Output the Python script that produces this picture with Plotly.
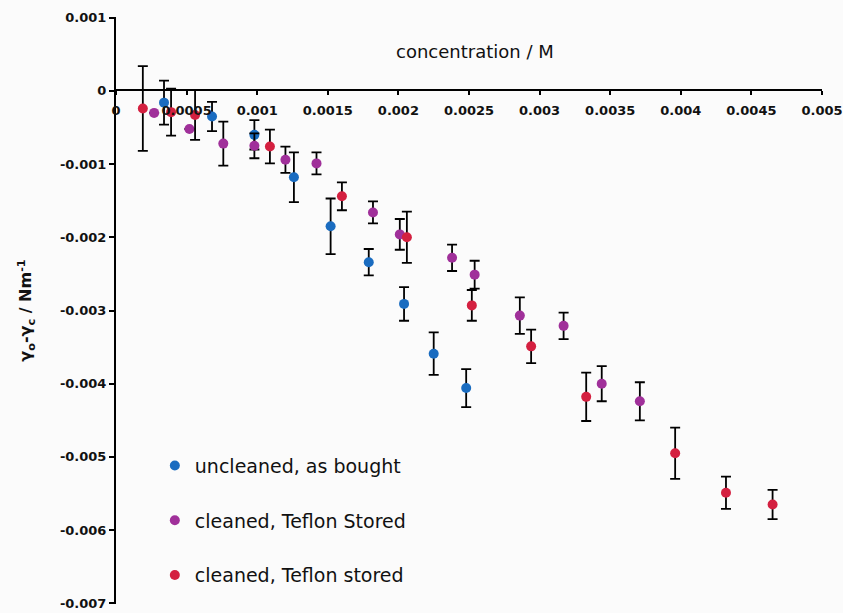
import plotly.graph_objects as go

# Surface tension difference vs concentration for three sample treatments
conc_uncleaned = [0.00034, 0.00068, 0.00098, 0.00126, 0.00152, 0.00179, 0.00204, 0.00225, 0.00248]
dgamma_uncleaned = [-0.00016, -0.00035, -0.00060, -0.00118, -0.00185, -0.00234, -0.00291, -0.00359, -0.00406]
err_uncleaned = [0.00030, 0.00020, 0.00020, 0.00034, 0.00038, 0.00018, 0.00023, 0.00029, 0.00026]

conc_teflon_a = [0.00027, 0.00052, 0.00076, 0.00098, 0.00120, 0.00142, 0.00182, 0.00201,
                 0.00238, 0.00254, 0.00286, 0.00317, 0.00344, 0.00371]
dgamma_teflon_a = [-0.00030, -0.00052, -0.00072, -0.00075, -0.00094, -0.00099, -0.00166, -0.00196,
                   -0.00228, -0.00251, -0.00307, -0.00321, -0.00400, -0.00424]
err_teflon_a = [0.0, 0.0, 0.00030, 0.00017, 0.00018, 0.00015, 0.00015, 0.00021,
                0.00018, 0.00019, 0.00025, 0.00018, 0.00024, 0.00026]

conc_teflon_b = [0.00019, 0.00039, 0.00056, 0.00109, 0.00160, 0.00206, 0.00252, 0.00294,
                 0.00333, 0.00396, 0.00432, 0.00465]
dgamma_teflon_b = [-0.00024, -0.00029, -0.00033, -0.00076, -0.00144, -0.00200, -0.00293, -0.00349,
                   -0.00418, -0.00495, -0.00549, -0.00565]
err_teflon_b = [0.00058, 0.00032, 0.00034, 0.00023, 0.00019, 0.00035, 0.00021, 0.00023,
                0.00033, 0.00035, 0.00022, 0.00020]

series_names = ["uncleaned, as bought", "cleaned, Teflon Stored", "cleaned, Teflon stored"]
series_colors = ["#1a6cc0", "#a0309a", "#d42040"]

x_tickvals = [0, 0.0005, 0.001, 0.0015, 0.002, 0.0025, 0.003, 0.0035, 0.004, 0.0045, 0.005]
x_ticktext = ["0", "0.0005", "0.001", "0.0015", "0.002", "0.0025", "0.003", "0.0035", "0.004", "0.0045", "0.005"]
y_tickvals = [0.001, 0, -0.001, -0.002, -0.003, -0.004, -0.005, -0.006, -0.007]
y_ticktext = ["0.001", "0", "-0.001", "-0.002", "-0.003", "-0.004", "-0.005", "-0.006", "-0.007"]

datasets = [
    (conc_uncleaned, dgamma_uncleaned, err_uncleaned),
    (conc_teflon_a, dgamma_teflon_a, err_teflon_a),
    (conc_teflon_b, dgamma_teflon_b, err_teflon_b),
]

fig = go.Figure()
for i, ((xs, ys, es), name, color) in enumerate(zip(datasets, series_names, series_colors)):
    fig.add_trace(go.Scatter(
        x=xs, y=ys, mode="markers", name=name,
        legendgroup=f"g{i}",
        marker=dict(color=color, size=10, line=dict(width=0)),
        error_y=dict(type="data", array=es, visible=True, color="black", thickness=1.8, width=5),
    ))

tick_font = dict(family="DejaVu Sans", size=13, color="#111111", weight="bold")

# x-axis title sits above the axis line, as a free text label
fig.add_annotation(
    text="concentration / M", xref="paper", yref="paper",
    x=0.5085, y=0.9404, xanchor="center", yanchor="middle", showarrow=False,
    font=dict(family="DejaVu Sans", size=18, color="#111111"),
)

fig.update_layout(
    width=843, height=613,
    margin=dict(l=116, r=21, t=17, b=9),
    paper_bgcolor="#fbfbfb", plot_bgcolor="#fbfbfb",
    showlegend=True,
    legend=dict(
        x=0.055, y=0.268, xanchor="left", yanchor="top",
        font=dict(family="DejaVu Sans", size=19, color="#111111"),
        bgcolor="rgba(0,0,0,0)", tracegroupgap=27,
    ),
    xaxis=dict(
        range=[0, 0.005], anchor="free", position=0.875,
        tickmode="array", tickvals=x_tickvals, ticktext=x_ticktext,
        showline=True, linecolor="black", linewidth=2,
        ticks="outside", ticklen=4, tickcolor="black", tickwidth=1.5,
        ticklabelstandoff=4, ticklabeloverflow="allow", automargin=False,
        showgrid=False, zeroline=False, tickfont=tick_font,
    ),
    yaxis=dict(
        range=[-0.00701, 0.00101],
        tickmode="array", tickvals=y_tickvals, ticktext=y_ticktext,
        showline=True, linecolor="black", linewidth=2,
        ticks="outside", ticklen=5, tickcolor="black", tickwidth=1.5,
        ticklabeloverflow="allow", automargin=False,
        showgrid=False, zeroline=False, tickfont=tick_font,
        title=dict(text="γ<sub>o</sub>-γ<sub>c</sub> / Nm<sup>-1</sup>", standoff=24,
                   font=dict(family="DejaVu Sans", size=16, color="#111111", weight="bold")),
    ),
)

fig.write_html("out.html")
